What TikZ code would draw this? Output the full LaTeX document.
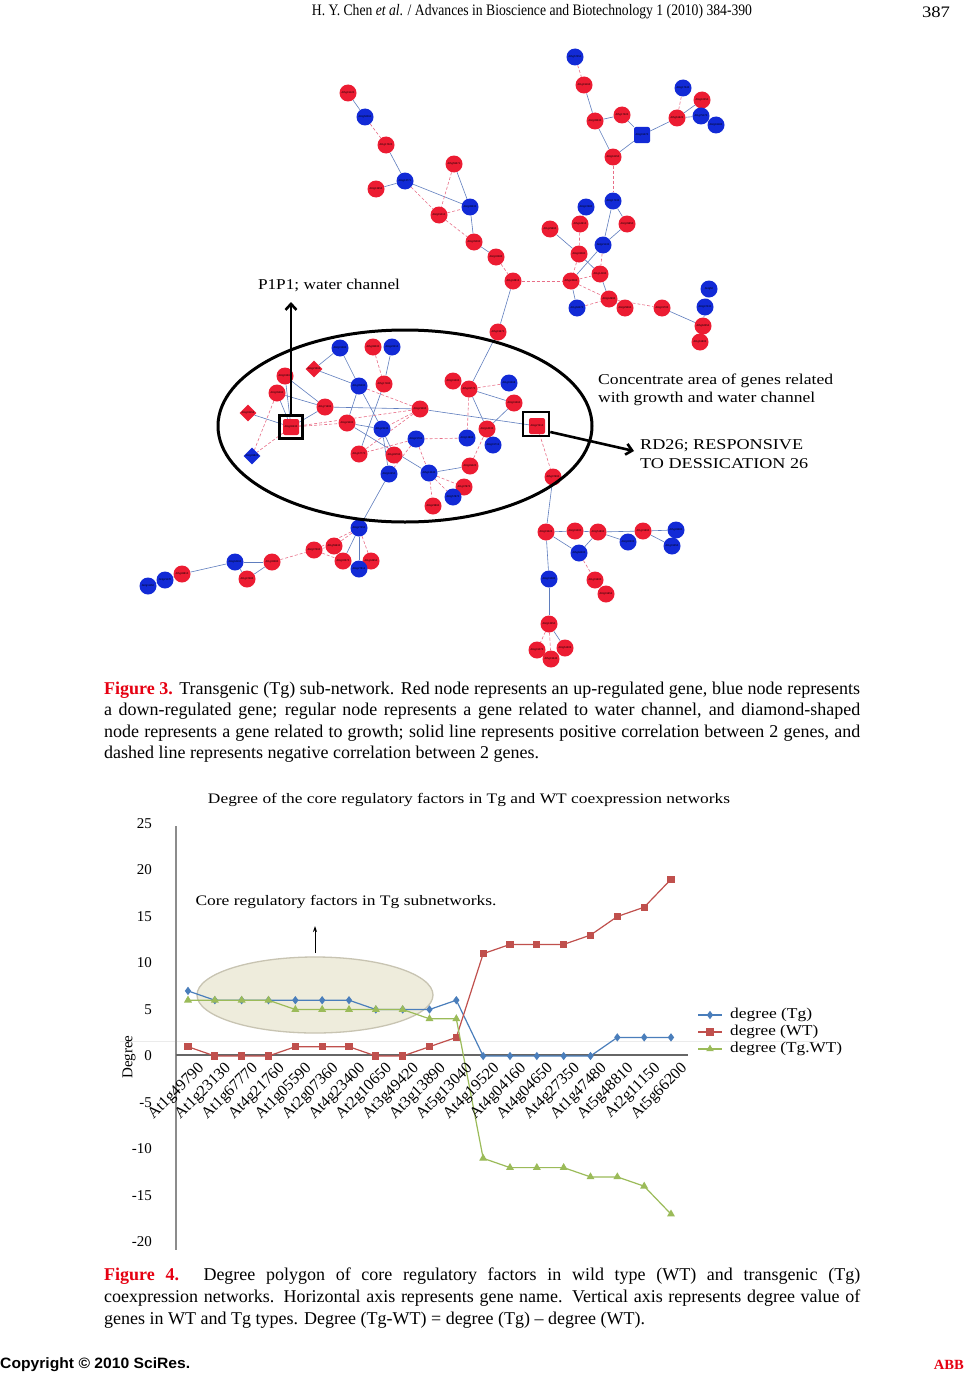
\documentclass[tikz,border=0pt]{standalone}
\usepackage{fontspec}
\setmainfont{Liberation Serif}
\newfontfamily\sansb{Liberation Sans}
\newfontfamily\capfont{Liberation Serif}
\usetikzlibrary{shapes.geometric,arrows.meta,plotmarks}
\pgfdeclarelayer{bgl}
\pgfdeclarelayer{edgel}
\pgfsetlayers{bgl,edgel,main}
\definecolor{nred}{RGB}{236,28,50}
\definecolor{nblue}{RGB}{18,42,214}
\definecolor{posE}{RGB}{95,125,190}
\definecolor{negE}{RGB}{232,110,135}
\definecolor{cTg}{RGB}{74,126,187}
\definecolor{cWT}{RGB}{192,80,77}
\definecolor{cDiff}{RGB}{155,187,89}
\definecolor{capred}{RGB}{230,0,18}
\definecolor{ellfill}{RGB}{236,233,215}
\definecolor{ellline}{RGB}{200,196,178}
\newcommand\fitw[2]{\resizebox{#1}{\height}{#2}}
\begin{document}
\begin{tikzpicture}[x=1pt,y=-1pt,
 gn/.style={circle,inner sep=0pt,minimum size=17pt,text=black,font=\sansb\fontsize{2.6}{3}\selectfont},
 rc/.style={gn,fill=nred}, bc/.style={gn,fill=nblue},
 rs/.style={gn,rectangle,rounded corners=2pt,minimum size=16pt,fill=nred},
 bs/.style={gn,rectangle,rounded corners=2pt,minimum size=16pt,fill=nblue},
 rdia/.style={gn,diamond,minimum size=17pt,fill=nred},
 bdia/.style={gn,diamond,minimum size=17pt,fill=nblue},
 pe/.style={posE,line width=0.6pt},
 ne/.style={negE,line width=0.6pt,dash pattern=on 3pt off 2pt},
 hl/.style={draw=black,line width=2.6pt,inner sep=0pt},
 ann/.style={inner sep=0pt,font=\fontsize{15}{15}\selectfont},
 capl/.style={anchor=west,inner sep=0pt,font=\capfont\fontsize{18}{20}\selectfont},
 xlab/.style={inner sep=0pt,font=\fontsize{16}{16}\selectfont,rotate=45,anchor=north east},
 ylab/.style={inner sep=0pt,font=\fontsize{15}{15}\selectfont,anchor=east},
 legt/.style={inner sep=0pt,font=\fontsize{15}{15}\selectfont,anchor=west}
]
\useasboundingbox (0,0) rectangle (965,1386);
\begin{pgfonlayer}{bgl}
\fill[white] (0,0) rectangle (965,1386);
\end{pgfonlayer}

% header
\node[inner sep=0pt] (hdr) at (532,12) {\fitw{440pt}{\fontsize{16}{16}\selectfont H. Y. Chen \textit{et al}. / Advances in Bioscience and Biotechnology 1 (2010) 384-390}};
\node[inner sep=0pt] (pg) at (936,12) {\fitw{28pt}{\fontsize{16}{16}\selectfont 387}};

% ---------------- network nodes ----------------
\node[rc] (a1) at (348,93) {At5g19120};
\node[bc] (a2) at (365,117) {At3g50060};
\node[rc] (a3) at (386,145) {At1g17020};
\node[bc] (a4) at (405,181) {At4g13771};
\node[rc] (a5) at (376,189) {At3g13650};
\node[rc] (a6) at (454,164) {At5g59371};
\node[bc] (a7) at (470,207) {At2g38530};
\node[rc] (a8) at (439,215) {At2g15010};
\node[rc] (a9) at (474,242) {At4g35090};
\node[rc] (a10) at (496,257) {At2g32280};
\node[rc] (a11) at (513,281) {At1g34815};

\node[bc] (b1) at (575,57) {At5g57350};
\node[rc] (b2) at (584,85) {At1g19160};
\node[rc] (b3) at (595,121) {At2g38530};
\node[rc] (b4) at (622,115) {At5g17220};
\node[bs] (b5) at (642,135) {At4g01470};
\node[rc] (b6) at (613,157) {At3g16150};
\node[bc] (b7) at (683,88) {At4g17340};
\node[rc] (b8) at (702,100) {At4g10250};
\node[rc] (b9) at (677,118) {At5g61620};
\node[bc] (b10) at (701,116) {At1g75170};
\node[bc] (b11) at (716,125) {At2g18180};

\node[bc] (c1) at (613,201) {At3g17130};
\node[bc] (c2) at (586,207) {At3g47480};
\node[rc] (c3) at (580,224) {At5g44610};
\node[rc] (c4) at (627,224) {At2g39850};
\node[rc] (c5) at (550,229) {At1g29660};
\node[bc] (c6) at (603,245) {At2g21130};
\node[rc] (c7) at (579,254) {At4g33080};
\node[rc] (c8) at (600,274) {At1g14190};
\node[rc] (c9) at (571,281) {At5g24080};
\node[rc] (c10) at (609,299) {At3g44990};
\node[bc] (c11) at (577,308) {At1g66270};
\node[rc] (c12) at (625,308) {At2g29360};
\node[rc] (c13) at (662,308) {At4g31700};
\node[bc] (c14) at (709,289) {At4g50};
\node[bc] (c15) at (705,307) {At3g47230};
\node[rc] (c16) at (703,326) {At5g62350};
\node[rc] (c17) at (700,342) {At1g61800};

\node[rc] (d1) at (498,332) {At5g19670};
\node[bc] (d2) at (340,348) {At2g31380};
\node[rc] (d3) at (373,347) {At5g08030};
\node[bc] (d4) at (392,347) {At4g22210};
\node[rdia] (d5) at (314,369) {At4g21363};
\node[rc] (d6) at (285,376) {At3g01500};
\node[rc] (d7) at (277,393) {At3g05360};
\node[bc] (d8) at (359,386) {At1g05590};
\node[rc] (d9) at (384,384) {At5g17180};
\node[rc] (d10) at (325,407) {At1g71695};
\node[rdia] (d11) at (248,413) {At4g03153};
\node[rs] (d12) at (291,427) {At4g00430};
\node[rc] (d13) at (347,423) {At4g23400};
\node[rc] (d14) at (420,409) {At4g23460};
\node[bc] (d15) at (382,429) {At1g23130};
\node[bc] (d16) at (416,439) {At4g21760};
\node[bdia] (d17) at (252,456) {At2g49820};
\node[rc] (d18) at (359,454) {At1g67770};
\node[rc] (d19) at (394,455) {At1g49790};
\node[bc] (d20) at (389,474) {At2g10650};
\node[bc] (d21) at (429,473) {At5g13040};
\node[rc] (d22) at (453,381) {At3g01200};
\node[rc] (d23) at (469,389) {At5g49770};
\node[bc] (d24) at (509,383) {At1g01568};
\node[rc] (d25) at (514,403) {At3g01360};
\node[rc] (d26) at (487,429) {At2g44030};
\node[bc] (d27) at (467,438) {At3g13890};
\node[bc] (d28) at (493,445) {At4g01715};
\node[rc] (d29) at (470,466) {At3g49420};
\node[rc] (d30) at (464,487) {At1g07970};
\node[bc] (d31) at (453,497) {At3g57870};
\node[rc] (d32) at (433,506) {At4g23890};
\node[rs] (d33) at (537,426) {At4g27410};
\node[rc] (d34) at (553,477) {At5g07690};

\node[bc] (e1) at (359,528) {At4g27350};
\node[rc] (e2) at (334,546) {At1g59630};
\node[rc] (e3) at (314,550) {At2g07360};
\node[rc] (e4) at (343,561) {At4g32370};
\node[rc] (e5) at (371,561) {At1g04650};
\node[bc] (e6) at (359,569) {At4g27814};
\node[rc] (e7) at (272,562) {At1g36580};
\node[bc] (e8) at (235,562) {At4g04160};
\node[rc] (e9) at (247,579) {At1g47480};
\node[rc] (e10) at (182,574) {At5g48810};
\node[bc] (e11) at (165,580) {At3g21170};
\node[bc] (e12) at (148,586) {At2g11150};

\node[rc] (f1) at (546,532) {At4g19520};
\node[rc] (f2) at (575,531) {At2g01200};
\node[rc] (f3) at (598,532) {At3g51860};
\node[bc] (f4) at (579,553) {At5g66200};
\node[rc] (f5) at (643,531) {At1g31690};
\node[bc] (f6) at (628,542) {At2g40300};
\node[bc] (f7) at (676,530) {At5g49580};
\node[bc] (f8) at (672,546) {At1g01250};
\node[bc] (f9) at (549,579) {At4g01080};
\node[rc] (f10) at (595,580) {At1g01600};
\node[rc] (f11) at (606,594) {At3g01654};
\node[rc] (f12) at (549,624) {At2g13550};
\node[rc] (f13) at (537,650) {At4g01070};
\node[rc] (f14) at (565,648) {At3g51305};
\node[rc] (f15) at (551,659) {At5g19540};

% ---------------- network edges ----------------
\begin{pgfonlayer}{edgel}
\foreach \u/\v in {a1/a2,a3/a4,a4/a5,a4/a7,a6/a7,a7/a9,a9/a10,a11/d1,
  b2/b3,b3/b4,b4/b5,b3/b6,b6/b5,b5/b9,b9/b8,b9/b10,b8/b10,b10/b11,
  c1/c6,c1/c4,c4/c6,c6/c9,c5/c7,c7/c8,c8/c10,c9/c11,c10/c12,c13/c16,c14/c15,c15/c16,c16/c17,c2/c3,
  d1/d23,d2/d8,d2/d5,d4/d9,d5/d8,d6/d10,d7/d10,d6/d12,d7/d12,d11/d12,d10/d12,d10/d14,
  d8/d13,d8/d15,d9/d18,d13/d15,d13/d21,d14/d33,d15/d19,d15/d20,d20/e1,d21/d29,
  d23/d22,d23/d25,d23/d26,d25/d26,d26/d28,d34/f1,
  e1/e4,e1/e6,e4/e6,e8/e7,e8/e9,e9/e7,e8/e10,e10/e11,e11/e12,
  f1/f2,f2/f3,f1/f4,f4/f3,f3/f5,f3/f6,f5/f7,f5/f8,f10/f11,f1/f9,f9/f12,f12/f14}
  \draw[pe] (\u) -- (\v);
\foreach \u/\v in {a2/a3,a4/a8,a6/a8,a8/a7,a8/a9,a10/a11,a11/c9,
  b1/b2,b9/b7,b6/c1,
  c6/c8,c3/c7,c7/c9,c9/c8,c9/c10,c11/c10,c10/c13,
  d3/d9,d7/d17,d12/d17,d12/d13,d12/d14,d8/d14,d14/d15,d14/d18,d16/d18,d16/d27,d16/d21,d16/d20,
  d21/d30,d21/d32,d21/d31,d29/d26,d23/d24,d23/d27,d33/d34,
  e1/e2,e1/e3,e1/e5,e3/e2,e3/e4,e7/e3,
  f4/f10,f12/f13,f12/f15}
  \draw[ne] (\u) -- (\v);
\end{pgfonlayer}

% ---------------- annotations ----------------
\node[ellipse,draw=black,line width=3pt,minimum width=374pt,minimum height=192pt,inner sep=0pt] (area) at (405,426) {};
\node[hl,minimum size=23pt] (box1) at (291,427) {};
\node[hl,minimum width=26pt,minimum height=24pt] (box2) at (536,424) {};
\coordinate (p1tip) at (291,302);
\coordinate (rdtip) at (634,451);
\draw[line width=2.6pt,-{Straight Barb[length=6pt,width=11pt]}] (box1.north) -- (p1tip);
\draw[line width=2.6pt,-{Straight Barb[length=6pt,width=11pt]}] ([yshift=-8pt]box2.east) -- (rdtip);
\node[ann] (t1) at (329,285) {\fitw{142pt}{P1P1; water channel}};
\node[ann,anchor=west] (t2) at (598,381) {\fitw{235pt}{Concentrate area of genes related}};
\node[ann,anchor=west] (t3) at (598,399) {\fitw{217pt}{with growth and water channel}};
\node[ann,anchor=west] (t4) at (640,446) {\fitw{163pt}{RD26; RESPONSIVE}};
\node[ann,anchor=west] (t5) at (640,464) {\fitw{168pt}{TO DESSICATION 26}};

% ---------------- caption figure 3 ----------------
\node[capl] (f3l1) at (104,690) {\makebox[756pt][s]{{\bfseries\color{capred}Figure 3.} Transgenic (Tg) sub-network. Red node represents an up-regulated gene, blue node represents}};
\node[capl] (f3l2) at (104,711) {\makebox[756pt][s]{a down-regulated gene; regular node represents a gene related to water channel, and diamond-shaped}};
\node[capl] (f3l3) at (104,733) {\makebox[756pt][s]{node represents a gene related to growth; solid line represents positive correlation between 2 genes, and}};
\node[capl] (f3l4) at (104,754) {dashed line represents negative correlation between 2 genes.};

% ---------------- chart ----------------
\node[inner sep=0pt] (ctitle) at (469,800) {\fitw{522pt}{\fontsize{14.5}{14.5}\selectfont Degree of the core regulatory factors in Tg and WT coexpression networks}};
\draw[black!8,line width=0.8pt] (120,1041) -- (818,1041);
\draw[black!45,line width=1.3pt] (176,826) -- (176,1250);
\node[ellipse,draw=ellline,fill=ellfill,fill opacity=0.85,line width=1.3pt,minimum width=236pt,minimum height=76pt] (coreell) at (315,995) {};
\draw[black!60,line width=2.6pt] (176,1055) -- (688,1055);
\begin{scope}[shift={(188,1056)},x=26.833pt,y=9.3pt]
\draw[cTg,line width=1.2pt] plot[mark=diamond*,mark size=3.2pt,mark options={fill=cTg,draw=cTg}] coordinates {(0,7)(1,6)(2,6)(3,6)(4,6)(5,6)(6,6)(7,5)(8,5)(9,5)(10,6)(11,0)(12,0)(13,0)(14,0)(15,0)(16,2)(17,2)(18,2)};
\draw[cWT,line width=1.2pt] plot[mark=square*,mark size=3pt,mark options={fill=cWT,draw=cWT}] coordinates {(0,1)(1,0)(2,0)(3,0)(4,1)(5,1)(6,1)(7,0)(8,0)(9,1)(10,2)(11,11)(12,12)(13,12)(14,12)(15,13)(16,15)(17,16)(18,19)};
\draw[cDiff,line width=1.2pt] plot[mark=triangle*,mark size=3.4pt,mark options={fill=cDiff,draw=cDiff}] coordinates {(0,6)(1,6)(2,6)(3,6)(4,5)(5,5)(6,5)(7,5)(8,5)(9,4)(10,4)(11,-11)(12,-12)(13,-12)(14,-12)(15,-13)(16,-13)(17,-14)(18,-17)};
\end{scope}
\foreach \v in {25,20,15,10,5,0,-5,-10,-15,-20}
  \node[ylab] (yl\v) at (152,{1056-9.3*\v}) {\v};
\foreach \n [count=\i from 0] in {At1g49790,At1g23130,At1g67770,At4g21760,At1g05590,At2g07360,At4g23400,At2g10650,At3g49420,At3g13890,At5g13040,At4g19520,At4g04160,At4g04650,At4g27350,At1g47480,At5g48810,At2g11150,At5g66200}
  \node[xlab] (xl\i) at ({188+26.833*\i+9},1061) {\n};
\node[inner sep=0pt,rotate=90,font=\fontsize{15}{15}\selectfont] (ylabel) at (129,1057) {Degree};
\node[inner sep=0pt] (coretxt) at (346,902) {\fitw{301pt}{\fontsize{14.5}{14.5}\selectfont Core regulatory factors in Tg subnetworks.}};
\coordinate (cab) at (315,953);
\coordinate (cat) at (315,926);
\draw[line width=0.9pt,-{Stealth[length=6pt,width=4pt]}] (cab) -- (cat);
% legend
\draw[cTg,line width=1.2pt] plot[mark=diamond*,mark indices={2},mark size=3.2pt,mark options={fill=cTg}] coordinates {(698,1015)(710,1015)(722,1015)};
\draw[cWT,line width=1.2pt] plot[mark=square*,mark indices={2},mark size=3pt,mark options={fill=cWT}] coordinates {(698,1032)(710,1032)(722,1032)};
\draw[cDiff,line width=1.2pt] plot[mark=triangle*,mark indices={2},mark size=3.2pt,mark options={fill=cDiff}] coordinates {(698,1049)(710,1049)(722,1049)};
\node[legt] (lg1) at (730,1015) {\fitw{82pt}{degree (Tg)}};
\node[legt] (lg2) at (730,1032) {\fitw{88pt}{degree (WT)}};
\node[legt] (lg3) at (730,1049) {\fitw{112pt}{degree (Tg.WT)}};

% ---------------- caption figure 4 ----------------
\node[capl] (f4l1) at (104,1276) {\makebox[756pt][s]{{\bfseries\color{capred}Figure 4.} Degree polygon of core regulatory factors in wild type (WT) and transgenic (Tg)}};
\node[capl] (f4l2) at (104,1298) {\makebox[756pt][s]{coexpression networks. Horizontal axis represents gene name. Vertical axis represents degree value of}};
\node[capl] (f4l3) at (104,1320) {genes in WT and Tg types. Degree (Tg-WT) = degree (Tg) – degree (WT).};

% footer
\node[anchor=west,inner sep=0pt] (copy) at (0,1365) {\fitw{190pt}{\sansb\bfseries\fontsize{15}{15}\selectfont Copyright \textcopyright{} 2010 SciRes.}};
\node[anchor=east,inner sep=0pt] (abb) at (964,1365) {\fitw{30pt}{\bfseries\color{capred}\fontsize{14}{14}\selectfont ABB}};
\end{tikzpicture}
\end{document}
